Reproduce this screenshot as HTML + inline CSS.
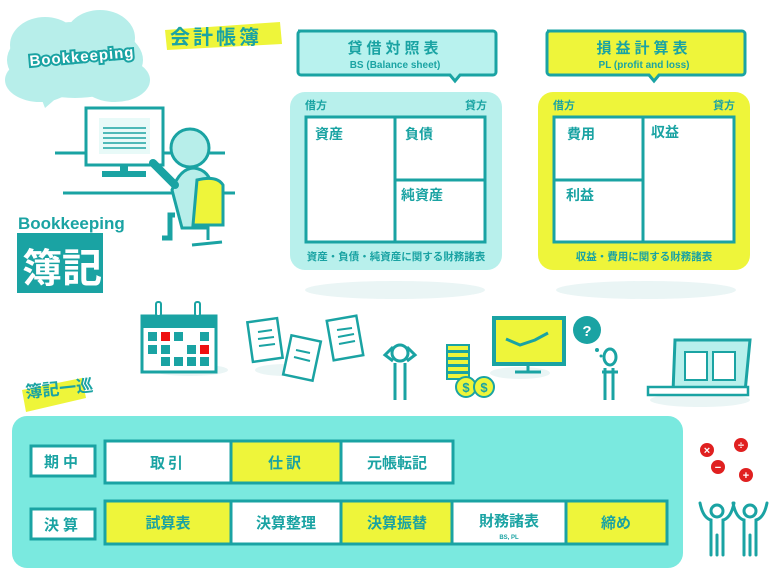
<!DOCTYPE html>
<html><head><meta charset="utf-8"><style>
html,body{margin:0;padding:0;background:#fff;}
svg{display:block;font-family:"Liberation Sans","Noto Sans CJK JP",sans-serif;}
</style></head><body>
<svg width="780" height="585" viewBox="0 0 780 585" xmlns="http://www.w3.org/2000/svg">
<defs></defs>
<!-- cloud -->
<g fill="#b7eeea">
<ellipse cx="75" cy="60" rx="68" ry="38"/><ellipse cx="45" cy="45" rx="35" ry="28"/><ellipse cx="100" cy="38" rx="35" ry="28"/><ellipse cx="40" cy="80" rx="35" ry="22"/><ellipse cx="115" cy="80" rx="35" ry="22"/>
<polygon points="40,95 60,95 45,108"/>
</g>
<text x="30" y="66" font-size="15" font-weight="bold" fill="#fff" stroke="#1aa3a3" stroke-width="4" paint-order="stroke" transform="rotate(-5 30 66)" letter-spacing="1">Bookkeeping</text>
<polygon points="165,30 280,22 282,44 167,50" fill="#eef53a"/>
<text x="170" y="44" font-size="20" font-weight="bold" fill="#1aa3a3" letter-spacing="3">会計帳簿</text>
<!-- desk lines -->
<line x1="55" y1="153" x2="225" y2="153" stroke="#1aa3a3" stroke-width="3"/>
<line x1="63" y1="193" x2="235" y2="193" stroke="#1aa3a3" stroke-width="3"/>
<!-- monitor -->
<rect x="86" y="108" width="77" height="57" fill="#fff" stroke="#1aa3a3" stroke-width="3"/>
<rect x="99" y="118" width="51" height="36" fill="#e8faf8"/>
<g stroke="#1aa3a3" stroke-width="1.5"><line x1="103" y1="128" x2="146" y2="128"/><line x1="103" y1="133" x2="146" y2="133"/><line x1="103" y1="138" x2="146" y2="138"/><line x1="103" y1="143" x2="146" y2="143"/><line x1="103" y1="148" x2="146" y2="148"/></g>
<rect x="120" y="165" width="8" height="6" fill="#1aa3a3"/><rect x="102" y="171" width="44" height="6" fill="#1aa3a3"/>
<!-- person -->
<circle cx="190" cy="148" r="19" fill="#b7eeea" stroke="#1aa3a3" stroke-width="3"/>
<path d="M172 190 q8-22 22-22 q16 2 18 20 l-5 40 h-25 z" fill="#b7eeea" stroke="#1aa3a3" stroke-width="3"/>
<path d="M175 185 l-22 -22" stroke="#1aa3a3" stroke-width="8" stroke-linecap="round"/>
<path d="M175 215 h-5 v23 h-8" fill="none" stroke="#1aa3a3" stroke-width="5"/>
<path d="M197 180 q20-5 26 5 v40 h-30 z" fill="#eef53a" stroke="#1aa3a3" stroke-width="3"/>
<g stroke="#1aa3a3" stroke-width="3"><line x1="208" y1="225" x2="208" y2="240"/><line x1="192" y1="245" x2="222" y2="242"/></g>
<!-- bookkeeping label -->
<text x="18" y="229" font-size="17" font-weight="bold" fill="#1aa3a3">Bookkeeping</text>
<rect x="17" y="233" width="86" height="60" fill="#1aa3a3"/>
<text x="22" y="282" font-size="40" font-weight="bold" fill="#fff">簿記</text>
<!-- shadows -->
<ellipse cx="395" cy="290" rx="90" ry="9" fill="#eaf5f5"/><ellipse cx="646" cy="290" rx="90" ry="9" fill="#eaf5f5"/>
<!-- BS -->
<path d="M298 31 h195 a3 3 0 0 1 3 3 v38 a3 3 0 0 1 -3 3 h-33 l-5 6 l-5 -6 h-149 a3 3 0 0 1 -3 -3 v-38 a3 3 0 0 1 3 -3z" fill="#b8f2ee" stroke="#1aa3a3" stroke-width="3"/>
<text x="395" y="53" text-anchor="middle" font-size="15" font-weight="bold" fill="#1aa3a3" letter-spacing="4">貸借対照表</text>
<text x="395" y="68" text-anchor="middle" font-size="10" font-weight="bold" fill="#1aa3a3">BS (Balance sheet)</text>
<rect x="290" y="92" width="212" height="178" rx="15" fill="#b8f0ec"/>
<text x="305" y="109" font-size="11" font-weight="bold" fill="#1aa3a3">借方</text><text x="465" y="109" font-size="11" font-weight="bold" fill="#1aa3a3">貸方</text>
<rect x="306" y="117" width="179" height="125" fill="#fff" stroke="#1aa3a3" stroke-width="3"/>
<line x1="395" y1="117" x2="395" y2="242" stroke="#1aa3a3" stroke-width="3"/><line x1="395" y1="180" x2="485" y2="180" stroke="#1aa3a3" stroke-width="3"/>
<g font-size="14" font-weight="bold" fill="#1aa3a3"><text x="315" y="139">資産</text><text x="405" y="139">負債</text><text x="401" y="200">純資産</text></g>
<text x="396" y="260" text-anchor="middle" font-size="10.5" font-weight="bold" fill="#1aa3a3">資産・負債・純資産に関する財務諸表</text>
<!-- PL -->
<path d="M547 31 h195 a3 3 0 0 1 3 3 v38 a3 3 0 0 1 -3 3 h-83 l-5 6 l-5 -6 h-99 a3 3 0 0 1 -3 -3 v-38 a3 3 0 0 1 3 -3z" fill="#eef53a" stroke="#1aa3a3" stroke-width="3"/>
<text x="644" y="53" text-anchor="middle" font-size="15" font-weight="bold" fill="#1aa3a3" letter-spacing="4">損益計算表</text>
<text x="644" y="68" text-anchor="middle" font-size="10" font-weight="bold" fill="#1aa3a3">PL (profit and loss)</text>
<rect x="538" y="92" width="212" height="178" rx="15" fill="#eef53a"/>
<text x="553" y="109" font-size="11" font-weight="bold" fill="#1aa3a3">借方</text><text x="713" y="109" font-size="11" font-weight="bold" fill="#1aa3a3">貸方</text>
<rect x="554" y="117" width="180" height="125" fill="#fff" stroke="#1aa3a3" stroke-width="3"/>
<line x1="643" y1="117" x2="643" y2="242" stroke="#1aa3a3" stroke-width="3"/><line x1="554" y1="180" x2="643" y2="180" stroke="#1aa3a3" stroke-width="3"/>
<g font-size="14" font-weight="bold" fill="#1aa3a3"><text x="567" y="139">費用</text><text x="651" y="137">収益</text><text x="566" y="200">利益</text></g>
<text x="644" y="260" text-anchor="middle" font-size="10.5" font-weight="bold" fill="#1aa3a3">収益・費用に関する財務諸表</text>
<!-- middle icons -->
<g fill="#eaf5f5"><ellipse cx="190" cy="370" rx="38" ry="6"/><ellipse cx="285" cy="370" rx="30" ry="6"/><ellipse cx="520" cy="373" rx="30" ry="6"/><ellipse cx="700" cy="400" rx="50" ry="7"/></g>
<!-- calendar -->
<rect x="142" y="316" width="74" height="56" fill="#fff" stroke="#1aa3a3" stroke-width="3"/>
<rect x="142" y="316" width="74" height="12" fill="#1aa3a3"/>
<g fill="#1aa3a3"><rect x="148" y="332" width="9" height="9"/><rect x="174" y="332" width="9" height="9"/><rect x="148" y="345" width="9" height="9"/><rect x="161" y="345" width="9" height="9"/><rect x="187" y="345" width="9" height="9"/><rect x="161" y="357" width="9" height="9"/><rect x="174" y="357" width="9" height="9"/><rect x="187" y="357" width="9" height="9"/><rect x="200" y="357" width="9" height="9"/><rect x="200" y="332" width="9" height="9"/></g>
<g fill="#e11"><rect x="161" y="332" width="9" height="9"/><rect x="200" y="345" width="9" height="9"/></g>
<rect x="156" y="302" width="5" height="14" rx="2" fill="#fff" stroke="#1aa3a3" stroke-width="2"/><rect x="195" y="302" width="5" height="14" rx="2" fill="#fff" stroke="#1aa3a3" stroke-width="2"/>
<!-- docs -->
<g fill="#fff" stroke="#1aa3a3" stroke-width="2.5">
<rect x="250" y="320" width="30" height="40" transform="rotate(-8 265 340)"/>
<rect x="287" y="338" width="30" height="40" transform="rotate(12 302 358)"/>
<rect x="330" y="318" width="30" height="40" transform="rotate(-10 345 338)"/>
</g>
<g stroke="#1aa3a3" stroke-width="2"><line x1="258" y1="332" x2="272" y2="330"/><line x1="258" y1="339" x2="274" y2="337"/><line x1="259" y1="346" x2="275" y2="344"/><line x1="296" y1="350" x2="310" y2="353"/><line x1="294" y1="357" x2="310" y2="361"/><line x1="337" y1="330" x2="352" y2="328"/><line x1="338" y1="337" x2="354" y2="334"/><line x1="339" y1="344" x2="355" y2="341"/></g>
<!-- stressed person -->
<circle cx="400" cy="353" r="8" fill="#fff" stroke="#1aa3a3" stroke-width="3"/>
<path d="M393 347 l-8 8 l8 6 M407 347 l8 8 l-8 6 M395 363 v37 M405 363 v37" fill="none" stroke="#1aa3a3" stroke-width="3"/>
<!-- coins -->
<g fill="#eef53a" stroke="#1aa3a3" stroke-width="2"><rect x="447" y="345" width="22" height="6"/><rect x="447" y="352" width="22" height="6"/><rect x="447" y="359" width="22" height="6"/><rect x="447" y="366" width="22" height="6"/><rect x="447" y="373" width="22" height="6"/>
<circle cx="466" cy="387" r="10"/><circle cx="484" cy="387" r="10"/></g>
<text x="466" y="392" text-anchor="middle" font-size="13" font-weight="bold" fill="#1aa3a3">$</text><text x="484" y="392" text-anchor="middle" font-size="13" font-weight="bold" fill="#1aa3a3">$</text>
<!-- chart monitor -->
<rect x="494" y="318" width="70" height="46" fill="#eef53a" stroke="#1aa3a3" stroke-width="4"/>
<polyline points="506,339 520,345 535,340 548,333" fill="none" stroke="#1aa3a3" stroke-width="3"/>
<line x1="528" y1="364" x2="528" y2="372" stroke="#1aa3a3" stroke-width="3"/><line x1="515" y1="372" x2="541" y2="372" stroke="#1aa3a3" stroke-width="3"/>
<!-- question person -->
<circle cx="587" cy="330" r="14" fill="#1aa3a3"/><text x="587" y="336" text-anchor="middle" font-size="15" font-weight="bold" fill="#fff">?</text>
<circle cx="597" cy="350" r="2" fill="#1aa3a3"/><circle cx="601" cy="356" r="1.5" fill="#1aa3a3"/>
<ellipse cx="610" cy="357" rx="6" ry="8" fill="#fff" stroke="#1aa3a3" stroke-width="3"/>
<path d="M605 368 v32 M613 368 v32 M602 372 h16" fill="none" stroke="#1aa3a3" stroke-width="3"/>
<!-- laptop -->
<path d="M675 340 h75 l-5 52 h-72 z" fill="#b8f0ec" stroke="#1aa3a3" stroke-width="3"/>
<rect x="685" y="352" width="22" height="28" fill="#fff" stroke="#1aa3a3" stroke-width="2"/><rect x="713" y="352" width="22" height="28" fill="#fff" stroke="#1aa3a3" stroke-width="2"/>
<rect x="648" y="387" width="100" height="8" fill="#fff" stroke="#1aa3a3" stroke-width="2.5"/>
<!-- 簿記一巡 -->
<polygon points="22,390 82,378 86,398 26,412" fill="#eef53a"/>
<text x="26" y="398" font-size="17" font-weight="bold" fill="#1aa3a3" transform="rotate(-6 26 398)">簿記一巡</text>
<!-- bottom panel -->
<rect x="12" y="416" width="671" height="152" rx="15" fill="#7ae9df"/>
<g stroke="#1aa3a3" stroke-width="3">
<rect x="31" y="446" width="64" height="30" fill="#fff"/>
<rect x="31" y="509" width="64" height="30" fill="#fff"/>
<rect x="105" y="441" width="348" height="42" fill="#fff"/>
<rect x="231" y="441" width="110" height="42" fill="#eef53a"/>
<rect x="105" y="501" width="562" height="43" fill="#fff"/>
<rect x="105" y="501" width="126" height="43" fill="#eef53a"/>
<rect x="341" y="501" width="111" height="43" fill="#eef53a"/>
<rect x="566" y="501" width="101" height="43" fill="#eef53a"/>
</g>
<g font-size="15" font-weight="bold" fill="#1aa3a3" text-anchor="middle">
<text x="63" y="467" letter-spacing="4">期中</text><text x="63" y="530" letter-spacing="4">決算</text>
<text x="168" y="468" letter-spacing="3">取引</text><text x="286" y="468" letter-spacing="3">仕訳</text><text x="397" y="468">元帳転記</text>
<text x="168" y="528">試算表</text><text x="286" y="528">決算整理</text><text x="397" y="528">決算振替</text><text x="509" y="526">財務諸表</text><text x="616" y="528">締め</text>
</g>
<text x="509" y="539" text-anchor="middle" font-size="6" font-weight="bold" fill="#1aa3a3">BS, PL</text>
<!-- math -->
<g fill="#e02020"><circle cx="707" cy="450" r="7"/><circle cx="741" cy="445" r="7"/><circle cx="718" cy="467" r="7"/><circle cx="746" cy="475" r="7"/></g>
<g fill="#fff" font-size="11" font-weight="bold" text-anchor="middle"><text x="707" y="454">×</text><text x="741" y="449">÷</text><text x="718" y="471">−</text><text x="746" y="479">+</text></g>
<!-- cheering people -->
<g fill="none" stroke="#1aa3a3" stroke-width="3" stroke-linecap="round">
<circle cx="717" cy="511" r="6" fill="#fff"/><circle cx="750" cy="511" r="6" fill="#fff"/>
<path d="M700 503 q3 15 11 17 v35 M734 503 q-3 15 -11 17 v35 M717 535 v20"/>
<path d="M733 503 q3 15 11 17 v35 M767 503 q-3 15 -11 17 v35 M750 535 v20"/>
</g>
</svg>
</body></html>
